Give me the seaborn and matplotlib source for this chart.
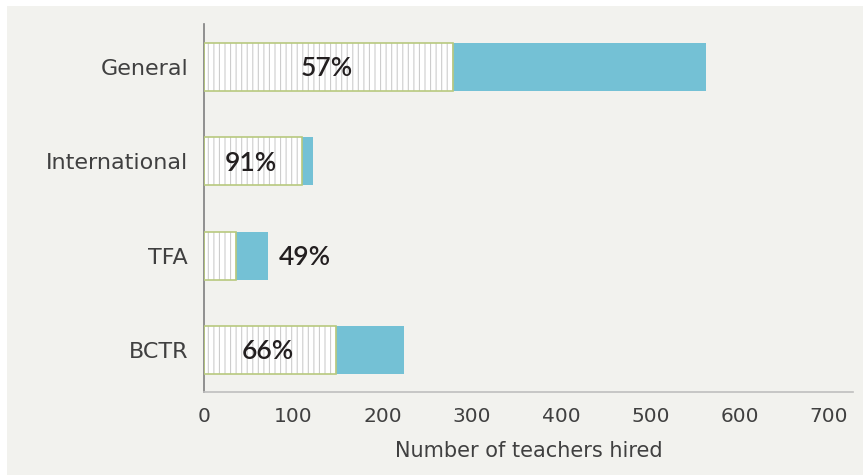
import matplotlib
matplotlib.use("Agg")
import matplotlib.pyplot as plt
import seaborn as sns
import pandas as pd
from matplotlib.patches import Rectangle

categories = ["General", "International", "TFA", "BCTR"]
first_part = [279, 110, 36, 148]
totals = [562, 122, 72, 224]
pct_labels = ["57%", "91%", "49%", "66%"]

BG = "#F2F2EE"
BLUE = "#74C1D5"

sns.set_theme(style="white")
plt.rcParams["font.family"] = ["DejaVu Sans"]
plt.rcParams["hatch.linewidth"] = 0.8

fig = plt.figure(figsize=(8.63, 4.75), dpi=100, facecolor="white")
fig.patches.append(Rectangle((7 / 863, 0), 1, 1 - 6 / 475, transform=fig.transFigure,
                             facecolor=BG, edgecolor="none", zorder=-10))
ax = fig.add_axes([204 / 863, 1 - 392 / 475, (853 - 204) / 863, (392 - 24) / 475])
ax.set_facecolor(BG)

df = pd.DataFrame({"cat": categories, "first": first_part, "total": totals})

sns.barplot(data=df, y="cat", x="total", color=BLUE, saturation=1, width=0.51,
            orient="h", ax=ax, linewidth=0)
n_before = len(ax.patches)
sns.barplot(data=df, y="cat", x="first", color="white", saturation=1, width=0.51,
            orient="h", ax=ax, linewidth=0)
for p in list(ax.patches[n_before:]):
    p.set_hatch("|||")
    p.set_edgecolor("#CDCDCD")
    p.set_linewidth(0)
    ax.add_patch(Rectangle(p.get_xy(), p.get_width(), p.get_height(), fill=False,
                           edgecolor="#B8C97E", linewidth=1.2, zorder=3))

for i, (lab, f, t) in enumerate(zip(pct_labels, first_part, totals)):
    if lab == "49%":
        xpos = t + 41
    else:
        xpos = f / 2 - 2
    ax.text(xpos, i + 0.02, lab, ha="center", va="center", fontsize=19,
            fontweight="semibold", color="#231F20", zorder=5, family=["Lato", "DejaVu Sans"])

ax.set_xlim(0, 727)
ax.set_ylim(3.445, -0.456)
ax.set_xticks(range(0, 701, 100))
ax.set_xlabel("Number of teachers hired", fontsize=15, color="#404040", labelpad=11)
ax.set_ylabel("")
ax.tick_params(axis="x", length=0, labelsize=14.5, colors="#404040", pad=10.5)
ax.tick_params(axis="y", length=0, labelsize=16, colors="#404040", pad=11.5)
for s in ["top", "right"]:
    ax.spines[s].set_visible(False)
ax.spines["left"].set_color("#7F7F7F")
ax.spines["left"].set_linewidth(1.2)
ax.spines["bottom"].set_color("#BFBFBF")
ax.spines["bottom"].set_linewidth(1.2)

fig.savefig("out.png", dpi=100, facecolor="white")
